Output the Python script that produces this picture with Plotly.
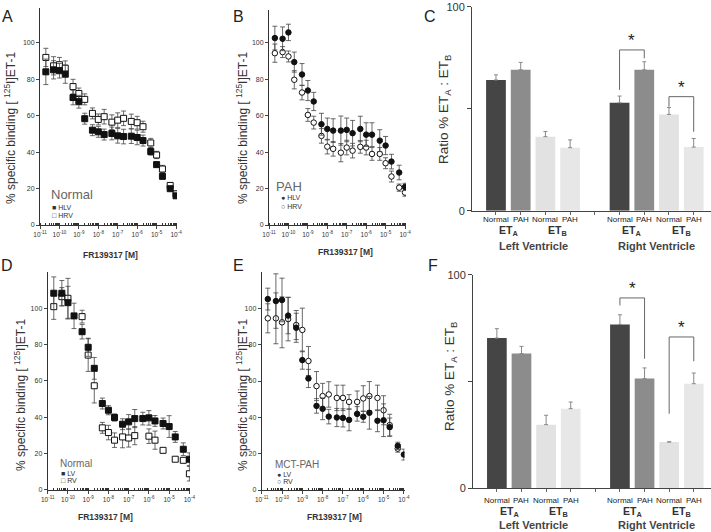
import plotly.graph_objects as go

W, H = 711, 532

# FR139317 concentrations [M]
conc = [2e-11, 5e-11, 1e-10, 2e-10, 5e-10, 1e-9, 2e-9, 5e-9, 1e-8, 2e-8, 5e-8,
        1e-7, 2e-7, 5e-7, 1e-6, 2e-6, 5e-6, 1e-5, 2e-5, 5e-5, 1e-4]

# A: normal, human LV / RV
a_hlv = [84.0, 85.1, 84.6, 82.7, 69.9, 67.6, 58.3, 52.0, 51.1, 49.6, 50.2,
         48.9, 48.5, 48.7, 48.0, 46.3, 40.3, 33.1, 26.7, 19.9, 16.0]
a_hlv_err = [7, 5, 4, 5, 4, 3.5, 3, 3, 3, 3, 3.5, 4, 4, 4, 4, 3, 2, 1.5, 1.5, 1, 1]
a_hrv = [91.9, 87.3, 87.9, 86.0, 75.9, 72.1, 68.9, 61.2, 57.9, 59.4, 56.4,
         57.5, 58.5, 56.8, 56.1, 53.9, 45.0, 38.4, 30.7, 21.7, 17.1]
a_hrv_err = [5, 5, 4, 4, 4, 3, 3, 3, 3, 4, 4, 4, 4, 4, 3.5, 3, 2.5, 2, 2, 1.5, 1.5]

# B: PAH, human LV / RV
b_hlv = [102.6, 102.2, 105.7, 89.4, 82.6, 73.8, 67.8, 55.3, 52.7, 51.8, 51.8,
         52.2, 50.4, 52.7, 49.6, 49.6, 46.3, 43.6, 34.8, 28.8, 20.9]
b_hlv_err = [6.5, 6.5, 4.5, 5.5, 6, 5.5, 5, 6, 6, 6.5, 8, 6.5, 7, 7, 6.5, 6.5, 6, 5, 4, 4, 2]
b_hrv = [94.3, 94.9, 92.5, 79.7, 72.7, 60.4, 56.2, 48.9, 43.0, 41.8, 39.7,
         42.5, 40.8, 42.9, 42.5, 39.0, 39.0, 33.9, 26.6, 20.5, 17.8]
b_hrv_err = [5, 3, 3, 5, 4, 3.5, 3.5, 4, 4, 4, 5, 4, 4, 3.5, 4, 3.5, 3.5, 3, 3, 2, 2]

# D: normal rat LV / RV
d_lv = [108.3, 108.3, 103.1, 95.8, 87.1, 78.5, 66.9, 47.5, 43.8, 39.8, 36.1,
        37.4, 39.2, 39.2, 39.6, 37.9, 36.5, 34.8, 29.1, 22.3, 16.8]
d_lv_err = [9, 7, 9, 7, 4, 5, 6, 3, 2.5, 2, 3, 4, 5, 3.5, 4, 3, 3, 6, 3, 3.5, 3.5]
d_rv = [100.9, 106.4, 105.5, None, 95.4, 74.2, 57.3, 34.1, 31.5, 27.3, 29.1,
        28.5, 29.8, None, 29.5, 27.3, 21.7, None, 16.8, 16.2, 8.8]
d_rv_err = [7, 5, 11, 0, 3.5, 9, 9.5, 3, 4, 4, 6, 5, 5, 0, 4, 5, 1, 0, 1, 1, 4]

# E: MCT-PAH rat LV / RV
e_lv = [105.1, 104.0, 104.6, 96.0, 89.3, 71.5, 61.4, 46.3, 44.7, 40.4, 39.9,
        39.7, 38.6, 41.9, 40.3, 42.5, 38.1, 38.4, 34.6, 24.3, 19.5]
e_lv_err = [6, 15, 12, 10, 8, 5, 5, 4, 6, 4, 5, 5, 6, 4, 3, 9, 6, 9, 5, 2, 3]
e_rv = [94.5, 94.5, 92.3, 94.1, 90.8, 88.1, 71.0, 57.2, 51.7, 52.6, 50.7,
        50.7, 48.5, 48.5, 50.4, 51.7, 50.7, 43.9, 35.7, 22.8, None]
e_rv_err = [8, 14, 14, 12, 8, 12, 8, 8, 7, 7, 7, 7, 4, 6, 7, 8, 7, 8, 6, 2, 0]

# C / F: ratio ETA:ETB bars
bar_pos = [0, 1, 2, 3, 5, 6, 7, 8]
bar_groups = ["Normal", "PAH", "Normal", "PAH", "Normal", "PAH", "Normal", "PAH"]
c_vals = [64.1, 69.1, 36.3, 30.9, 52.9, 69.1, 47.2, 31.2]
c_err = [2.5, 3.6, 2.5, 3.8, 3.3, 3.9, 3.4, 4.2]
f_vals = [70.3, 63.0, 29.7, 37.2, 76.7, 51.3, 21.6, 48.9]
f_err = [4.4, 3.4, 4.4, 3.1, 4.5, 5.0, 0, 5.0]
# significance brackets: [left foot, top, right foot]
c_sig = [[59.2, 78.8, 74.7], [51.0, 55.9, 38.7]]
f_sig = [[85.6, 89.1, 60.6], [34.8, 70.8, 59.4]]

bar_colors = ["#454545", "#8c8c8c", "#e2e2e2", "#e7e7e7"] * 2
FONT = "Liberation Sans, Arial, sans-serif"
NARROW = "Liberation Sans Narrow, Arial Narrow, Liberation Sans, sans-serif"
INK = "#333333"


def px(x):
    return x / W


def py(y):
    return 1 - y / H


fig = go.Figure()


def curve(xa, ya, y, err, symbol, filled):
    fig.add_trace(go.Scatter(
        x=conc, y=y, mode="markers", xaxis=xa, yaxis=ya, showlegend=False,
        marker=dict(symbol=symbol, size=6 if "square" in symbol else 5.5,
                    color="#111111" if filled else "white",
                    line=dict(color="#111111", width=1)),
        error_y=dict(type="data", array=err, color="#444444", thickness=0.8, width=2.5),
    ))


curve("x", "y", a_hrv, a_hrv_err, "square", False)
curve("x", "y", a_hlv, a_hlv_err, "square", True)
curve("x2", "y2", b_hrv, b_hrv_err, "circle", False)
curve("x2", "y2", b_hlv, b_hlv_err, "circle", True)
curve("x4", "y4", d_rv, d_rv_err, "square", False)
curve("x4", "y4", d_lv, d_lv_err, "square", True)
curve("x5", "y5", e_rv, e_rv_err, "circle", False)
curve("x5", "y5", e_lv, e_lv_err, "circle", True)


def bars(xa, ya, vals, err, sig):
    fig.add_trace(go.Bar(
        x=bar_pos, y=vals, width=0.8, xaxis=xa, yaxis=ya, showlegend=False,
        marker=dict(color=bar_colors, line=dict(width=0)),
        error_y=dict(type="data", array=err, arrayminus=[0] * len(err),
                     color="#888888", thickness=1, width=2),
    ))
    for (lo, top, hi), (i, j) in zip(sig, [(4, 5), (6, 7)]):
        fig.add_trace(go.Scatter(
            x=[bar_pos[i], bar_pos[i], bar_pos[j], bar_pos[j]], y=[lo, top, top, hi],
            mode="lines", xaxis=xa, yaxis=ya, showlegend=False,
            line=dict(color="#666666", width=1),
        ))
        fig.add_annotation(x=(bar_pos[i] + bar_pos[j]) / 2, y=top - 1, xref=xa, yref=ya,
                           text="*", showarrow=False, yanchor="bottom",
                           font=dict(size=17, color="#222222", family=FONT))


bars("x3", "y3", c_vals, c_err, c_sig)
bars("x6", "y6", f_vals, f_err, f_sig)

log_ticks = [1e-11, 1e-10, 1e-9, 1e-8, 1e-7, 1e-6, 1e-5, 1e-4]
log_text = ["10<sup>%d</sup>" % e for e in range(-11, -3)]


def log_axis(x0, x1, top):
    return dict(type="log", domain=[px(x0), px(x1)], range=[-11, top],
                tickvals=log_ticks, ticktext=log_text, ticks="outside", ticklen=3,
                tickfont=dict(size=6.5, color=INK, family=FONT),
                minor=dict(ticks="inside", ticklen=2, tickcolor=INK, dtick="D1"),
                showline=True, linecolor=INK, linewidth=1, showgrid=False,
                zeroline=False, fixedrange=True)


def lin_axis(y0, y1, top, anchor):
    return dict(domain=[py(y0), py(y1)], range=[0, top], anchor=anchor,
                tickvals=[0, 20, 40, 60, 80, 100], ticks="outside", ticklen=3,
                tickfont=dict(size=7, color=INK, family=FONT),
                showline=True, linecolor=INK, linewidth=1, showgrid=False,
                zeroline=False, fixedrange=True)


def bar_x(x0, anchor):
    return dict(domain=[px(x0), 1], range=[-0.97, 8.7], anchor=anchor,
                tickvals=bar_pos + [4], ticktext=[""] * 9,
                ticks="outside", ticklen=3, tickcolor="#666666",
                showline=True, linecolor="#444444", linewidth=1, showgrid=False,
                zeroline=False, fixedrange=True)


def bar_y(y0, y1, anchor):
    return dict(domain=[py(y0), py(y1)], range=[0, 100], anchor=anchor,
                tickvals=[0, 50, 100], ticktext=["0", "", "100"], ticks="outside", ticklen=4,
                tickfont=dict(size=11, color=INK, family=FONT),
                showline=True, linecolor="#444444", linewidth=1, showgrid=False,
                zeroline=False, fixedrange=True)


fig.update_layout(
    width=W, height=H, margin=dict(l=0, r=0, t=0, b=0, autoexpand=False),
    paper_bgcolor="white", plot_bgcolor="white", showlegend=False,
    font=dict(family=FONT, color=INK),
    xaxis=dict(log_axis(40, 177, -3.95), anchor="y"),
    yaxis=lin_axis(225, 8, 119, "x"),
    xaxis2=dict(log_axis(269, 406, -3.95), anchor="y2"),
    yaxis2=lin_axis(225, 10, 118, "x2"),
    xaxis3=bar_x(472, "y3"),
    yaxis3=bar_y(210.7, 6.7, "x3"),
    xaxis4=dict(log_axis(47.7, 190, -3.97), anchor="y4"),
    yaxis4=lin_axis(489.7, 272, 120, "x4"),
    xaxis5=dict(log_axis(261.7, 404.5, -3.97), anchor="y5"),
    yaxis5=lin_axis(490, 272, 120, "x5"),
    xaxis6=bar_x(473, "y6"),
    yaxis6=bar_y(488, 274.7, "x6"),
)


def note(x, y, text, size, angle=0, color=INK, anchor="center", bold=False, family=FONT):
    if bold:
        text = "<b>" + text + "</b>"
    fig.add_annotation(x=px(x), y=py(y), xref="paper", yref="paper", text=text,
                       showarrow=False, textangle=angle, xanchor=anchor, yanchor="middle",
                       font=dict(size=size, color=color, family=family))


# panel letters
for letter, lx, ly in [("A", 7, 16), ("B", 238, 16), ("C", 430, 16),
                       ("D", 7, 265), ("E", 238, 265), ("F", 433, 265)]:
    note(lx, ly, letter, 16, color="#222222")

ytitle = "% specific binding [ <sup>125</sup>I]ET-1"
note(10, 128, ytitle, 12, angle=-90)
note(242, 128, ytitle, 12, angle=-90)
note(20, 395, ytitle, 12, angle=-90)
note(242, 395, ytitle, 12, angle=-90)
rtitle = "Ratio % ET<sub>A</sub> : ET<sub>B</sub>"
note(445, 110, rtitle, 13.5, angle=-90)
note(450, 377, rtitle, 13.5, angle=-90)

note(110, 255, "FR139317 [M]", 8.5, bold=True)
note(345, 252, "FR139317 [M]", 8.5, bold=True)
note(105, 517, "FR139317 [M]", 8.5, bold=True)
note(334, 517, "FR139317 [M]", 8.5, bold=True)

# in-panel legends
note(49, 194, "Normal", 13, color="#666666", anchor="left", family=NARROW)
note(50, 207, "■ HLV", 7, anchor="left")
note(50, 215, "□ HRV", 7, anchor="left")
note(274, 186, "PAH", 13, color="#666666", anchor="left", family=NARROW)
note(279, 198, "● HLV", 7, anchor="left")
note(279, 206, "○ HRV", 7, anchor="left")
note(58, 463, "Normal", 10, color="#666666", anchor="left")
note(59, 473, "■ LV", 7, anchor="left")
note(59, 480, "□ RV", 7, anchor="left")
note(273, 464, "MCT-PAH", 10, color="#666666", anchor="left")
note(275, 474, "● LV", 7, anchor="left")
note(275, 481, "○ RV", 7, anchor="left")

# bar group labels (placed in pixels below each bar axis)
for xa, y_grp, y_et, y_v in [("x3", 220, 231, 246), ("x6", 500, 512, 525)]:
    for xc, t in zip(bar_pos, bar_groups):
        fig.add_annotation(x=xc, y=py(y_grp), xref=xa, yref="paper", text=t,
                           showarrow=False, yanchor="middle",
                           font=dict(size=8, color="#222222", family=FONT))
    for xc, t in [(0.5, "ET<sub>A</sub>"), (2.5, "ET<sub>B</sub>"),
                  (5.5, "ET<sub>A</sub>"), (7.5, "ET<sub>B</sub>")]:
        fig.add_annotation(x=xc, y=py(y_et), xref=xa, yref="paper", text="<b>" + t + "</b>",
                           showarrow=False, yanchor="middle",
                           font=dict(size=10.5, color=INK, family=FONT))
    for xc, t in [(1.5, "Left Ventricle"), (6.5, "Right Ventricle")]:
        fig.add_annotation(x=xc, y=py(y_v), xref=xa, yref="paper", text="<b>" + t + "</b>",
                           showarrow=False, yanchor="middle",
                           font=dict(size=11, color="#444444", family=FONT))

# the page body has a default 8px margin; remove it so the figure sits at the corner
fig.write_html("out.html", config={"displayModeBar": False},
               post_script="document.body.style.margin='0';")
